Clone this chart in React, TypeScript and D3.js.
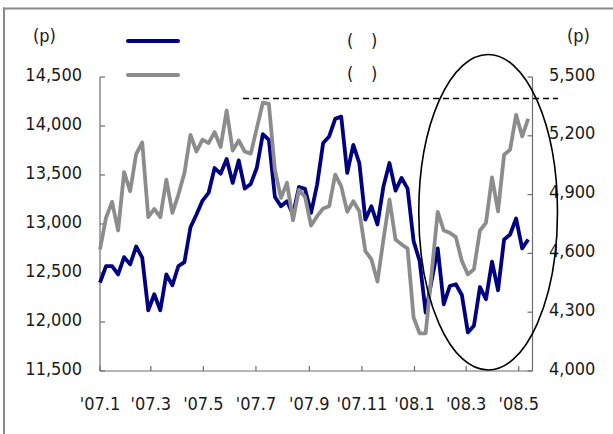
import React from 'react';
import * as d3 from 'd3';

// weekly closes, Jan 2007 - May 2008
const industrials = [
  12402, 12571, 12571, 12486, 12662, 12588, 12771, 12656, 12120, 12283,
  12120, 12486, 12375, 12571, 12611, 12967, 13097, 13239, 13317, 13571,
  13513, 13663, 13419, 13649, 13361, 13409, 13574, 13917, 13859, 13277,
  13181, 13232, 13097, 13378, 13358, 13114, 13402, 13826, 13893, 14073,
  14096, 13521, 13808, 13622, 13046, 13181, 12995, 13384, 13622, 13341,
  13470, 13361, 12825, 12622, 12097, 12425, 12751, 12181, 12367, 12385,
  12276, 11894, 11961, 12357, 12232, 12616, 12324, 12842, 12893, 13056,
  12751, 12842,
];

const transports = [
  4620, 4782, 4863, 4717, 5015, 4917, 5107, 5166, 4785, 4827,
  4785, 4976, 4807, 4900, 5010, 5205, 5120, 5180, 5163, 5219,
  5143, 5329, 5125, 5176, 5120, 5109, 5239, 5369, 5363, 5027,
  4883, 4960, 4769, 4925, 4888, 4742, 4790, 4829, 4841, 5002,
  4942, 4812, 4866, 4815, 4612, 4570, 4456, 4671, 4875, 4671,
  4646, 4625, 4273, 4192, 4192, 4503, 4812, 4717, 4705, 4683,
  4561, 4493, 4519, 4717, 4756, 4988, 4815, 5103, 5129, 5307,
  5197, 5287,
];

const tickDates = [
  '2007-01-01', '2007-03-01', '2007-05-01', '2007-07-01', '2007-09-01',
  '2007-11-01', '2008-01-01', '2008-03-01', '2008-05-01',
];
const tickLabels = ["'07.1", "'07.3", "'07.5", "'07.7", "'07.9", "'07.11", "'08.1", "'08.3", "'08.5"];
const leftTicks = [11500, 12000, 12500, 13000, 13500, 14000, 14500];
const rightTicks = [4000, 4300, 4600, 4900, 5200, 5500];

// annotations
const previousHigh = 5390;
const highlight = { from: '2008-01-06', to: '2008-06-15', low: 11510, high: 14730 };

const W = 613;
const H = 434;
const font = "'Liberation Sans Narrow', 'Arial Narrow', 'DejaVu Sans Condensed', sans-serif";
const axisColor = '#6e6e6e';

const App: React.FC = () => {
  const parse = d3.timeParse('%Y-%m-%d');
  const start = parse('2007-01-01') as Date;
  const end = parse('2008-05-17') as Date;
  const dates = industrials.map((_, i) => d3.timeDay.offset(start, 7 * i));

  const x = d3.scaleTime().domain([start, end]).range([100, 532.5]);
  const yL = d3.scaleLinear().domain([11500, 14500]).range([371, 77]);
  const yR = d3.scaleLinear().domain([4000, 5500]).range([371, 77]);

  const lineL = d3.line<number>()
    .x((_, i) => x(dates[i]))
    .y(d => yL(d));
  const lineR = d3.line<number>()
    .x((_, i) => x(dates[i]))
    .y(d => yR(d));

  const ex0 = x(parse(highlight.from) as Date);
  const ex1 = x(parse(highlight.to) as Date);
  const ey0 = yL(highlight.high);
  const ey1 = yL(highlight.low);

  const textStyle = { fontFamily: font, fontSize: 18, fill: '#1a1a1a' };

  return (
    <svg width={W} height={H} style={{ position: 'absolute', left: 0, top: 0, background: '#fff' }}>
      {/* frame */}
      <line x1={3} x2={W} y1={8.5} y2={8.5} stroke="#8a8a8a" strokeWidth={2} />
      <line x1={4} x2={4} y1={7.5} y2={H} stroke="#8a8a8a" strokeWidth={2} />

      {/* unit labels */}
      <text x={33} y={42} {...textStyle}>(p)</text>
      <text x={567} y={42} {...textStyle}>(p)</text>

      {/* legend */}
      <line x1={128} x2={178} y1={41} y2={41} stroke="#000080" strokeWidth={4} strokeLinecap="round" />
      <line x1={128} x2={178} y1={75} y2={75} stroke="#8c8c8c" strokeWidth={4} strokeLinecap="round" />
      <text x={347} y={47} {...textStyle}>(</text>
      <text x={371} y={47} {...textStyle}>)</text>
      <text x={347} y={80} {...textStyle}>(</text>
      <text x={371} y={80} {...textStyle}>)</text>

      {/* axes */}
      <line x1={x(start)} x2={x(start)} y1={yL(14500)} y2={yL(11500)} stroke={axisColor} strokeWidth={1.2} />
      <line x1={x(end)} x2={x(end)} y1={yR(5500)} y2={yR(4000)} stroke={axisColor} strokeWidth={1.2} />
      <line x1={x(start)} x2={x(end)} y1={yL(11500)} y2={yL(11500)} stroke={axisColor} strokeWidth={1.2} />

      {leftTicks.map(t => (
        <g key={'l' + t}>
          <line x1={x(start)} x2={x(start) + 5} y1={yL(t)} y2={yL(t)} stroke={axisColor} strokeWidth={1.2} />
          <text x={82} y={yL(t) + 3.5} textAnchor="end" {...textStyle}>{d3.format(',')(t)}</text>
        </g>
      ))}
      {rightTicks.map(t => (
        <g key={'r' + t}>
          <line x1={x(end) - 5} x2={x(end)} y1={yR(t)} y2={yR(t)} stroke={axisColor} strokeWidth={1.2} />
          <text x={549} y={yR(t) + 3.5} {...textStyle}>{d3.format(',')(t)}</text>
        </g>
      ))}
      {tickDates.map((d, i) => {
        const px = x(parse(d) as Date);
        return (
          <g key={d}>
            <line x1={px} x2={px} y1={yL(11500)} y2={yL(11500) - 5} stroke={axisColor} strokeWidth={1.2} />
            <text x={px} y={410} textAnchor="middle" {...textStyle}>{tickLabels[i]}</text>
          </g>
        );
      })}

      {/* series */}
      <path d={lineL(industrials) || ''} fill="none" stroke="#000080" strokeWidth={3.8} strokeLinejoin="round" />
      <path d={lineR(transports) || ''} fill="none" stroke="#8c8c8c" strokeWidth={3.8} strokeLinejoin="round" />

      {/* previous high */}
      <line x1={243} x2={558} y1={yR(previousHigh)} y2={yR(previousHigh)} stroke="#000" strokeWidth={1.6} strokeDasharray="6,4" />

      {/* highlight ellipse */}
      <ellipse cx={(ex0 + ex1) / 2} cy={(ey0 + ey1) / 2} rx={(ex1 - ex0) / 2} ry={(ey1 - ey0) / 2}
        fill="none" stroke="#000" strokeWidth={1.6} />
    </svg>
  );
};

export default App;
